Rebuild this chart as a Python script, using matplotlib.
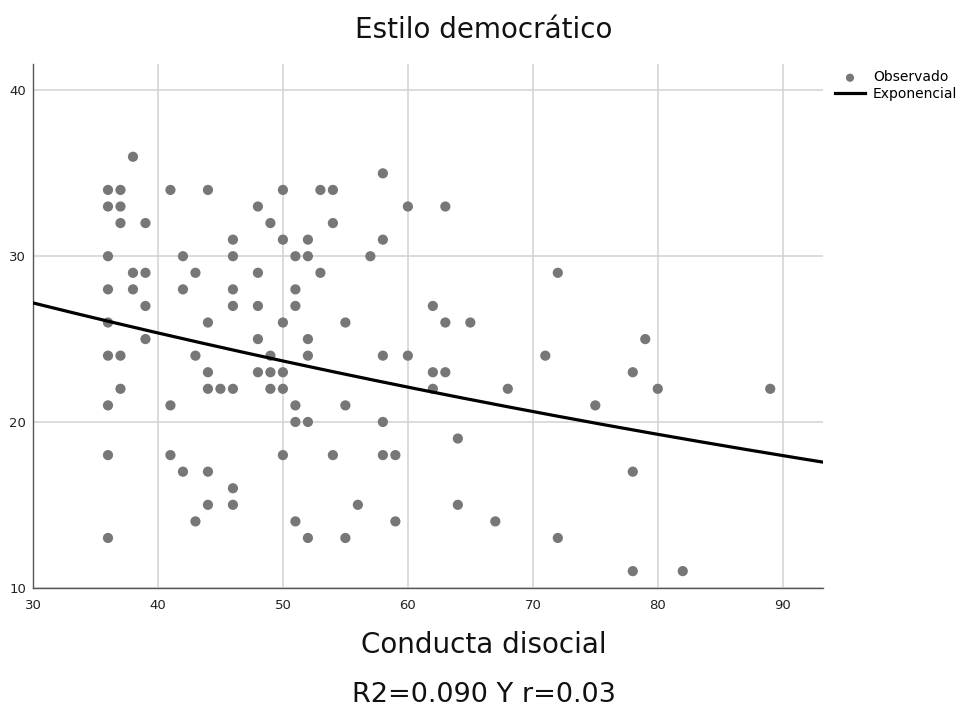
import numpy as np
import matplotlib
matplotlib.use("Agg")
import matplotlib.pyplot as plt

plt.rcParams['font.family'] = ['DejaVu Sans']

# Observed data (Conducta disocial, Estilo democrático)
x_obs = [36, 36, 36, 36, 36, 36, 36, 36, 36,
         37, 37, 37, 37, 37,
         38, 38, 38,
         39, 39, 39, 39,
         41, 41, 41,
         42, 42, 42,
         43, 43, 43,
         44, 44, 44, 44, 44, 44,
         45,
         46, 46, 46, 46, 46, 46, 46,
         48, 48, 48, 48, 48,
         49, 49, 49, 49,
         50, 50, 50, 50, 50, 50,
         51, 51, 51, 51, 51, 51,
         52, 52, 52, 52, 52, 52,
         53, 53,
         54, 54, 54,
         55, 55, 55,
         56, 57,
         58, 58, 58, 58, 58,
         59, 59,
         60, 60,
         62, 62, 62,
         63, 63, 63,
         64, 64,
         65, 67, 68, 71,
         72, 72,
         75,
         78, 78, 78,
         79, 80, 82, 89]
y_obs = [34, 33, 30, 28, 26, 24, 21, 18, 13,
         34, 33, 32, 24, 22,
         36, 29, 28,
         32, 29, 27, 25,
         34, 21, 18,
         30, 28, 17,
         29, 24, 14,
         34, 26, 23, 22, 17, 15,
         22,
         31, 30, 28, 27, 22, 16, 15,
         33, 29, 27, 25, 23,
         32, 24, 23, 22,
         34, 31, 26, 23, 22, 18,
         30, 28, 27, 21, 20, 14,
         31, 30, 25, 24, 20, 13,
         34, 29,
         34, 32, 18,
         26, 21, 13,
         15, 30,
         35, 31, 24, 20, 18,
         18, 14,
         33, 24,
         27, 23, 22,
         33, 26, 23,
         19, 15,
         26, 14, 22, 24,
         29, 13,
         21,
         23, 17, 11,
         25, 22, 11, 22]

# Exponential fit y = a * exp(b x)
fit_a = 33.43
fit_b = -0.006897

x_ticks = [30, 40, 50, 60, 70, 80, 90]
y_ticks = [10, 20, 30, 40]

fig = plt.figure(figsize=(9.68, 7.18), dpi=100)
ax = fig.add_axes([0.0341, 0.1815, 0.8158, 0.7294])

ax.set_xlim(30, 93.2)
ax.set_ylim(10, 41.6)

ax.scatter(x_obs, y_obs, s=54, color='#777777', edgecolors='none', zorder=3, label='Observado')
xf = np.linspace(30, 93.2, 200)
ax.plot(xf, fit_a * np.exp(fit_b * xf), color='black', lw=2.3, zorder=4, label='Exponencial')

ax.set_xticks(x_ticks)
ax.set_yticks(y_ticks)
ax.grid(True, color='#d2d2d2', lw=1.1, zorder=0)
ax.set_axisbelow(True)
for s in ['top', 'right']:
    ax.spines[s].set_visible(False)
for s in ['left', 'bottom']:
    ax.spines[s].set_color('#555555')
    ax.spines[s].set_linewidth(1.0)
ax.tick_params(axis='both', length=0, labelsize=9.5, colors='#222222')
ax.tick_params(axis='x', pad=8)
ax.tick_params(axis='y', pad=5)

fig.text(0.5, 0.958, 'Estilo democrático', ha='center', va='center', fontsize=20, color='#111111')
fig.text(0.5, 0.1017, 'Conducta disocial', ha='center', va='center', fontsize=20, color='#111111')
fig.text(0.5, 0.032, 'R2=0.090 Y r=0.03', ha='center', va='center', fontsize=19.5, color='#111111')

leg = ax.legend(loc='upper left', bbox_to_anchor=(0.8626, 0.902), bbox_transform=fig.transFigure,
                frameon=False, fontsize=10, handlelength=2.16, handletextpad=0.58,
                labelspacing=0.16, borderpad=0, borderaxespad=0, markerscale=0.8)

fig.savefig('out.png', dpi=100)
